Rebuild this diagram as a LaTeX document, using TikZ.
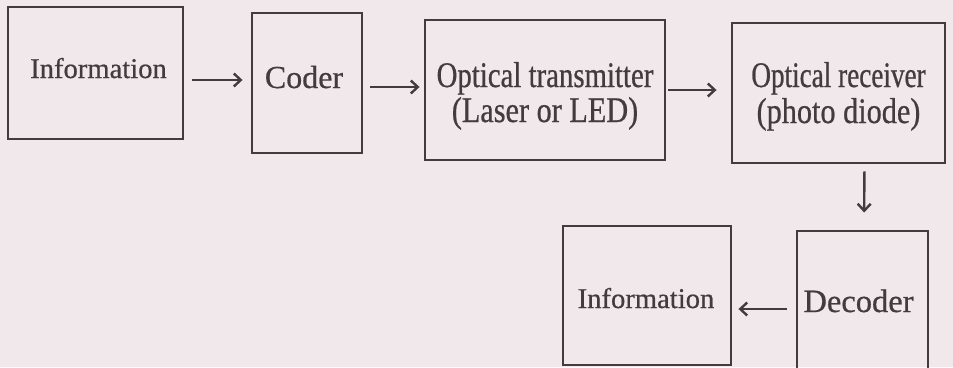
\documentclass[tikz,border=0pt]{standalone}
\usepackage{fontspec}
\setmainfont{Liberation Serif}[FakeBold=0.6]
% condensed cuts of the same serif for the two-line blocks
\newfontfamily\narrowA{Liberation Serif}[FakeStretch=0.80,FakeBold=0.6]
\newfontfamily\narrowB{Liberation Serif}[FakeStretch=0.755,FakeBold=0.6]
\newfontfamily\narrowC{Liberation Serif}[FakeStretch=0.84,FakeBold=0.6]
\usetikzlibrary{arrows.meta}
\definecolor{ink}{HTML}{433B3D}
\definecolor{paper}{HTML}{F1E8EB}
\begin{document}
\begin{tikzpicture}[x=1pt,y=-1pt,
  blockbox/.style={draw=ink, line width=2.9pt, inner sep=0pt},
  caption/.style={text=ink, inner sep=0pt, anchor=base},
  arr/.style={draw=ink, line width=2.4pt,
    -{Straight Barb[length=7pt,width=13pt]}}]
  % page background and frame
  \fill[paper] (0,0) rectangle (953,367);
  \useasboundingbox (0,0) rectangle (953,367);
  \begin{scope}
    \clip (0,0) rectangle (953,367);
    % blocks of the link
    \node[blockbox, minimum width=175pt, minimum height=132pt] (src) at (95.5,73) {};
    \node[blockbox, minimum width=110pt, minimum height=140pt] (coder) at (307,83) {};
    \node[blockbox, minimum width=240pt, minimum height=140pt] (tx) at (545,90) {};
    \node[blockbox, minimum width=213pt, minimum height=140pt] (rx) at (838.5,93) {};
    \node[blockbox, minimum width=131pt, minimum height=148pt] (dec) at (862.5,305) {};
    \node[blockbox, minimum width=168pt, minimum height=139pt] (dst) at (647,295.5) {};
    % block captions
    \node[caption, font=\fontsize{28.6}{30}\selectfont] (srcT) at ([xshift=3pt,yshift=-5pt]src.center) {Information};
    \node[caption, font=\fontsize{32}{34}\selectfont] (coderT) at ([xshift=-3pt,yshift=-5pt]coder.center) {Coder};
    \node[caption, font=\fontsize{36}{38}\narrowA] (txA) at ([yshift=3pt]tx.center) {Optical transmitter};
    \node[caption, font=\fontsize{36}{38}\narrowC] (txB) at ([yshift=-32pt]tx.center) {(Laser or LED)};
    \node[caption, font=\fontsize{36}{38}\narrowB] (rxA) at ([yshift=6pt]rx.center) {Optical receiver};
    \node[caption, font=\fontsize{36}{38}\narrowC] (rxB) at ([yshift=-30pt]rx.center) {(photo diode)};
    \node[caption, font=\fontsize{32.5}{34}\selectfont] (decT) at ([xshift=-4pt,yshift=-7pt]dec.center) {Decoder};
    \node[caption, font=\fontsize{28.6}{30}\selectfont] (dstT) at ([xshift=-1pt,yshift=-12.5pt]dst.center) {Information};
    % signal flow
    \draw[arr, shorten <=8pt, shorten >=8pt] ([yshift=-7pt]src.east) -- ([yshift=3pt]coder.west);
    \draw[arr, shorten <=7pt, shorten >=4pt] ([yshift=-4pt]coder.east) -- ([yshift=3pt]tx.west);
    \draw[arr, shorten <=2pt, shorten >=14pt] (tx.east) -- ([yshift=3pt]rx.west);
    \draw[arr, shorten <=7pt, shorten >=17pt] ([xshift=26pt]rx.south) -- ([xshift=1.5pt]dec.north);
    \draw[arr, shorten <=9pt, shorten >=6pt] ([yshift=-4pt]dec.west) -- ([yshift=-13.5pt]dst.east);
  \end{scope}
\end{tikzpicture}
\end{document}
